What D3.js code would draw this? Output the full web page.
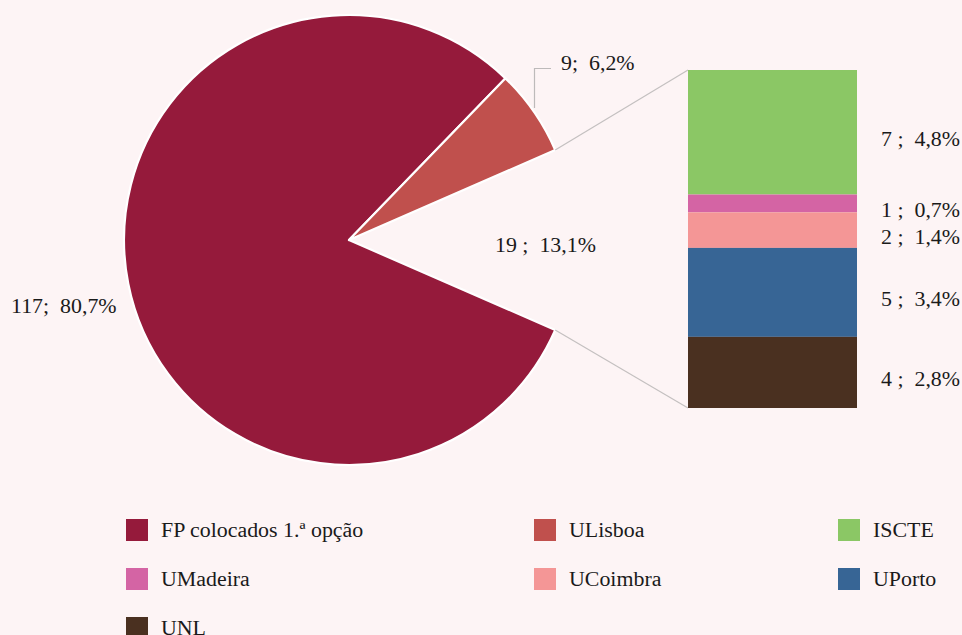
<!DOCTYPE html>
<html><head><meta charset="utf-8">
<script src="https://cdn.jsdelivr.net/npm/d3@7"></script>
<style>
html,body{margin:0;padding:0;background:#fdf4f5;}
svg{display:block;}
text{font-family:"Liberation Serif","Times New Roman",serif;font-size:21.9px;fill:#1a1a1a;white-space:pre;}
</style></head>
<body>
<svg id="c" width="962" height="635"></svg>
<script>
// ---- data ----
const pieCategories = ["FP colocados 1.ª opção", "ULisboa", "Outras"];
const pieValues = [117, 9, 19];
const barCategories = ["ISCTE", "UMadeira", "UCoimbra", "UPorto", "UNL"];
const barValues = [7, 1, 2, 5, 4];
const legendLabels = ["FP colocados 1.ª opção", "ULisboa", "ISCTE", "UMadeira", "UCoimbra", "UPorto", "UNL"];
const pieColors = ["#951a3b", "#c0504d", "none"];
const barColors = ["#8bc765", "#d464a4", "#f49696", "#376595", "#4a3020"];
const legendColors = ["#951a3b", "#c0504d", "#8bc765", "#d464a4", "#f49696", "#376595", "#4a3020"];

const total = d3.sum(pieValues);
const pct = v => (v / total * 100).toFixed(1).replace(".", ",") + "%";

const svg = d3.select("#c");
const cx = 349, cy = 240, R = 225;
const otherFrac = pieValues[2] / total;
const start = Math.PI / 2 + otherFrac * Math.PI;

const pie = d3.pie().sort(null).startAngle(start).endAngle(start + 2 * Math.PI);
const arcs = pie(pieValues);
const arc = d3.arc().innerRadius(0).outerRadius(R);
const g = svg.append("g").attr("transform", `translate(${cx},${cy})`);
g.selectAll("path").data(arcs.slice(0, 2)).join("path")
  .attr("d", arc)
  .attr("fill", (d, i) => pieColors[i])
  .attr("stroke", "#ffffff").attr("stroke-width", 2.2).attr("stroke-linejoin", "round");

// bar of pie
const barX0 = 688, barX1 = 857, barTop = 70, barBottom = 408;
const y = d3.scaleLinear().domain([0, d3.sum(barValues)]).range([barTop, barBottom]);
const stacked = [];
let acc = 0;
barValues.forEach((v, i) => { stacked.push({ v, i, y0: acc, y1: acc + v }); acc += v; });

// connector lines
const other = arcs[2];
const pt = a => [cx + R * Math.sin(a), cy - R * Math.cos(a)];
const pUp = pt(other.startAngle), pDown = pt(other.endAngle);
svg.append("line").attr("x1", pUp[0]).attr("y1", pUp[1]).attr("x2", barX0).attr("y2", y(0))
  .attr("stroke", "#c4c0c0").attr("stroke-width", 1.2);
svg.append("line").attr("x1", pDown[0]).attr("y1", pDown[1]).attr("x2", barX0).attr("y2", y(acc))
  .attr("stroke", "#c4c0c0").attr("stroke-width", 1.2);

svg.selectAll("rect.bar").data(stacked).join("rect").attr("class", "bar")
  .attr("x", barX0).attr("width", barX1 - barX0)
  .attr("y", d => y(d.y0)).attr("height", d => y(d.y1) - y(d.y0))
  .attr("fill", d => barColors[d.i]);

svg.selectAll("text.bl").data(stacked).join("text").attr("class", "bl")
  .attr("x", 881).attr("y", d => (y(d.y0) + y(d.y1)) / 2 + 14)
  .text(d => `${d.v} ;  ${pct(d.v)}`);

// pie labels
svg.append("text").attr("x", 11).attr("y", 313).text(`${pieValues[0]};  ${pct(pieValues[0])}`);
svg.append("text").attr("x", 561).attr("y", 70).text(`${pieValues[1]};  ${pct(pieValues[1])}`);
svg.append("text").attr("x", 495).attr("y", 252).text(`${pieValues[2]} ;  ${pct(pieValues[2])}`);
// leader line for ULisboa label
svg.append("path").attr("d", "M534.5,108 L534.5,68.5 L551,68.5")
  .attr("fill", "none").attr("stroke", "#bdbaba").attr("stroke-width", 1.2);

// legend
const colX = [126, 534, 838];
const rowY = [519, 568, 617];
const lg = svg.selectAll("g.lg").data(legendLabels).join("g").attr("class", "lg")
  .attr("transform", (d, i) => `translate(${colX[i % 3]},${rowY[Math.floor(i / 3)]})`);
lg.append("rect").attr("width", 22).attr("height", 22).attr("fill", (d, i) => legendColors[i]);
lg.append("text").attr("x", 35).attr("y", 18).text(d => d);
</script>
</body></html>
